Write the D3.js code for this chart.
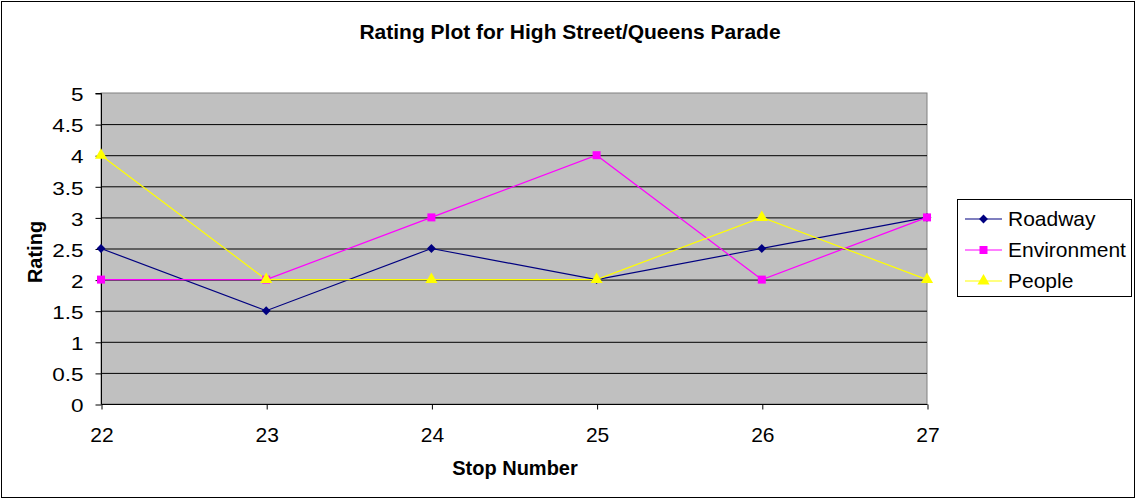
<!DOCTYPE html>
<html><head><meta charset="utf-8">
<script src="https://cdn.jsdelivr.net/npm/d3@7"></script>
<style>body{margin:0;background:#fff}svg{display:block;font-family:"Liberation Sans",Arial,sans-serif}</style>
</head><body><svg id="c" width="1136" height="500"></svg>
<script>
const categories = ["22","23","24","25","26","27"];
const roadway = [2.5,1.5,2.5,2,2.5,3];
const environment = [2,2,3,4,2,3];
const people = [4,2,2,2,3,2];
const yTicks = [0,0.5,1,1.5,2,2.5,3,3.5,4,4.5,5];
const seriesNames = ["Roadway","Environment","People"];
const seriesColors = ["#000080","#FF00FF","#FFFF00"];
const seriesShapes = [d3.symbolDiamond2 || d3.symbolDiamond, d3.symbolSquare, d3.symbolTriangle];
const seriesSizes = [50, 64, 64];
const series = [roadway, environment, people];

const svg = d3.select("#c");
svg.append("rect").attr("x",1.5).attr("y",1.5).attr("width",1133).attr("height",496).attr("fill","#fff").attr("stroke","#000").attr("stroke-width",1);

const L=101,R=927,T=93,B=404;
const x = d3.scalePoint().domain(categories).range([L,R]);
const y = d3.scaleLinear().domain([0,5]).range([B,T]);

svg.append("rect").attr("x",L).attr("y",T).attr("width",R-L).attr("height",B-T).attr("fill","#C0C0C0").attr("stroke","#808080");

svg.append("g").selectAll("line").data(yTicks.filter(d=>d>0 && d<5)).join("line")
  .attr("x1",L).attr("x2",R).attr("y1",d=>y(d)+0.5).attr("y2",d=>y(d)+0.5).attr("stroke","#000");

const sx = 1.25;
const ya = svg.append("g").attr("transform",`translate(${L+0.5},0.5)`)
  .call(d3.axisLeft(y).tickValues(yTicks).tickSize(6).tickPadding(12).tickFormat(d=>String(d)));
ya.select(".domain").attr("d",`M-6,${T}H0V${B}`).attr("stroke","#000");
ya.selectAll("text").attr("font-size",18).attr("fill","#000").attr("font-family","Liberation Sans, Arial, sans-serif")
  .attr("x",-18/sx).attr("dy","0.4em").attr("transform",`scale(${sx},1)`);

const xa = svg.append("g").attr("transform",`translate(0.5,${B+0.5})`)
  .call(d3.axisBottom(x).tickSize(5).tickPadding(18));
xa.select(".domain").attr("d",`M${L},0H${R}`).attr("stroke","#000");
xa.selectAll("text").attr("font-size",21).attr("fill","#000").attr("font-family","Liberation Sans, Arial, sans-serif");

const line = d3.line().x((d,i)=>x(categories[i])).y(d=>y(d));
series.forEach((s,k)=>{
  svg.append("path").datum(s).attr("d",line).attr("fill","none").attr("stroke",seriesColors[k]).attr("stroke-width",1.2);
});
series.forEach((s,k)=>{
  svg.append("g").selectAll("path").data(s).join("path")
    .attr("transform",(d,i)=>`translate(${x(categories[i])},${y(d)})`)
    .attr("d",d3.symbol().type(seriesShapes[k]).size(seriesSizes[k]))
    .attr("fill",seriesColors[k]);
});

svg.append("text").attr("x",570).attr("y",39).attr("text-anchor","middle").attr("font-size",21).attr("font-weight","bold").text("Rating Plot for High Street/Queens Parade");
svg.append("text").attr("x",515).attr("y",475).attr("text-anchor","middle").attr("font-size",20).attr("font-weight","bold").text("Stop Number");
svg.append("text").attr("transform","translate(42,252) rotate(-90)").attr("text-anchor","middle").attr("font-size",20).attr("font-weight","bold").text("Rating");

const lg = svg.append("g");
lg.append("rect").attr("x",957.5).attr("y",199.5).attr("width",174).attr("height",97).attr("fill","#fff").attr("stroke","#000");
seriesNames.forEach((n,k)=>{
  const yy = 219 + k*31;
  lg.append("line").attr("x1",965).attr("x2",1002).attr("y1",yy).attr("y2",yy).attr("stroke",seriesColors[k]).attr("stroke-width",1.2);
  lg.append("path").attr("transform",`translate(983.5,${yy})`).attr("d",d3.symbol().type(seriesShapes[k]).size(seriesSizes[k])).attr("fill",seriesColors[k]);
  lg.append("text").attr("x",1008).attr("y",yy+7).attr("font-size",21).text(n);
});
</script></body></html>
